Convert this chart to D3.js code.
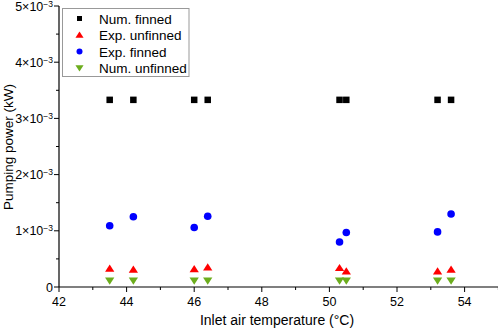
<!DOCTYPE html>
<html><head><meta charset="utf-8">
<script src="https://cdn.jsdelivr.net/npm/d3@7"></script>
<style>body{margin:0;background:#fff;} text{font-family:"Liberation Sans",Arial,sans-serif;}</style>
</head><body><svg id="c" width="498" height="332"></svg>
<script>
const temps = [43.5, 44.2, 46.0, 46.4, 50.3, 50.5, 53.2, 53.6];
const numFinned = [3.33e-3, 3.33e-3, 3.33e-3, 3.33e-3, 3.33e-3, 3.33e-3, 3.33e-3, 3.33e-3];
const expUnfinned = [0.33e-3, 0.31e-3, 0.32e-3, 0.35e-3, 0.34e-3, 0.28e-3, 0.28e-3, 0.31e-3];
const expFinned = [1.09e-3, 1.25e-3, 1.06e-3, 1.26e-3, 0.80e-3, 0.97e-3, 0.98e-3, 1.30e-3];
const numUnfinned = [0.11e-3, 0.11e-3, 0.11e-3, 0.11e-3, 0.11e-3, 0.11e-3, 0.11e-3, 0.11e-3];
const xTicks = [42, 44, 46, 48, 50, 52, 54];
const yTicks = [0, 1e-3, 2e-3, 3e-3, 4e-3, 5e-3];
const seriesNames = ["Num. finned", "Exp. unfinned", "Exp. finned", "Num. unfinned"];

const svg = d3.select("#c");
const x = d3.scaleLinear().domain([42, 55]).range([59, 498.4]);
const y = d3.scaleLinear().domain([0, 5e-3]).range([287, 6]);

const gx = svg.append("g").attr("transform","translate(0,287)");
gx.append("line").attr("x1",59).attr("x2",498).attr("stroke","#000").attr("stroke-width",1.2);
d3.range(43, 56, 2).forEach(v=>{
  gx.append("line").attr("x1",x(v)).attr("x2",x(v)).attr("y1",0).attr("y2",3).attr("stroke","#000");
});
xTicks.forEach(v=>{
  gx.append("line").attr("x1",x(v)).attr("x2",x(v)).attr("y1",0).attr("y2",5).attr("stroke","#000");
  gx.append("text").attr("x",x(v)).attr("y",18.5).attr("text-anchor","middle").attr("font-size",12.5).text(v);
});
const gy = svg.append("g").attr("transform","translate(59,0)");
gy.append("line").attr("y1",y(0)).attr("y2",y(5e-3)).attr("stroke","#000").attr("stroke-width",1.2);
d3.range(0.5e-3, 5e-3, 1e-3).forEach(v=>{
  gy.append("line").attr("x1",0).attr("x2",-3).attr("y1",y(v)).attr("y2",y(v)).attr("stroke","#000");
});
yTicks.forEach(v=>{
  gy.append("line").attr("x1",0).attr("x2",-5).attr("y1",y(v)).attr("y2",y(v)).attr("stroke","#000");
  const t = gy.append("text").attr("x",-6).attr("y",y(v)+4.5).attr("text-anchor","end").attr("font-size",12.5);
  if (v === 0) t.text("0");
  else {
    t.append("tspan").text(Math.round(v/1e-3) + "\u00D710");
    t.append("tspan").attr("dy",-4).attr("font-size",8.5).text("\u22123");
  }
});

svg.append("text").attr("x",277).attr("y",325).attr("text-anchor","middle").attr("font-size",14).text("Inlet air temperature (\u00B0C)");
svg.append("text").attr("transform","translate(12.5,147) rotate(-90)").attr("text-anchor","middle").attr("font-size",13.5).text("Pumping power (kW)");

const colors = ["#000000", "#ff0000", "#0000ff", "#6cad1d"];
function marker(g, type, cx, cy, s, col){
  if (type===0) g.append("rect").attr("x",cx-s/2).attr("y",cy-s/2).attr("width",s).attr("height",s).attr("fill",col);
  else if (type===1) g.append("path").attr("d",`M${cx},${cy-s*0.5}L${cx+s*0.58},${cy+s*0.4}L${cx-s*0.58},${cy+s*0.4}Z`).attr("fill",col);
  else if (type===2) g.append("circle").attr("cx",cx).attr("cy",cy).attr("r",s/2).attr("fill",col);
  else g.append("path").attr("d",`M${cx},${cy+s*0.5}L${cx+s*0.58},${cy-s*0.4}L${cx-s*0.58},${cy-s*0.4}Z`).attr("fill",col);
}
const allSeries = [numFinned, expUnfinned, expFinned, numUnfinned];
const sizes = [6.5, 8, 7.6, 8];
const pg = svg.append("g");
allSeries.forEach((arr, si)=>{
  arr.forEach((v,i)=> marker(pg, si, x(temps[i]), y(v), sizes[si], colors[si]));
});

const lg = svg.append("g");
lg.append("rect").attr("x",62.5).attr("y",8.5).attr("width",126.5).attr("height",68).attr("fill","#fff").attr("stroke","#999").attr("stroke-width",1);
seriesNames.forEach((n,i)=>{
  const cy = 18.5 + i*16.5;
  marker(lg, i, 79.5, cy, [5,7,6,7][i], colors[i]);
  lg.append("text").attr("x",99).attr("y",cy+5).attr("font-size",13.5).text(n);
});
</script></body></html>
